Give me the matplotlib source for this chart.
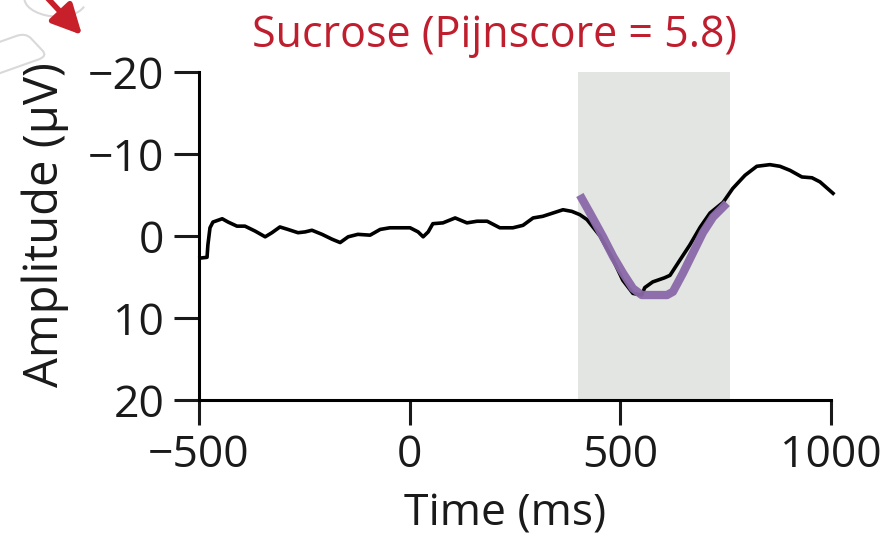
import matplotlib
matplotlib.use("Agg")
import matplotlib.pyplot as plt
from matplotlib.patches import FancyArrowPatch, Arc, FancyBboxPatch
import matplotlib.transforms as mtransforms

plt.rcParams['font.family'] = ['Open Sans', 'DejaVu Sans']

# EEG trace (black)
eeg_time = [-498, -481, -479, -474, -467, -445, -431, -410, -391, -367, -343, -327,
            -308, -289, -265, -248, -232, -208, -184, -165, -146, -123, -94, -70,
            -47, 1, 20, 32, 44, 55, 79, 108, 136, 160, 184, 214, 245, 269, 293,
            316, 340, 364, 385, 404, 421, 452, 483, 506, 530, 551, 558, 577, 605,
            618, 642, 665, 690, 713, 744, 767, 796, 824, 855, 879, 903, 931, 955,
            974, 1005]
eeg_amp = [2.7, 2.6, 1.1, -1.0, -1.7, -2.1, -1.7, -1.2, -1.2, -0.6, 0.1, -0.4,
           -1.1, -0.8, -0.4, -0.5, -0.7, -0.2, 0.4, 0.8, 0.1, -0.2, -0.1, -0.8,
           -1.0, -1.0, -0.5, 0.1, -0.5, -1.5, -1.6, -2.2, -1.6, -1.8, -1.8, -1.0,
           -1.0, -1.3, -2.2, -2.4, -2.8, -3.2, -3.0, -2.6, -2.0, 0.0, 2.9, 5.4,
           7.0, 7.2, 6.3, 5.6, 5.1, 4.8, 2.9, 1.1, -1.1, -2.8, -4.1, -5.8, -7.4,
           -8.5, -8.7, -8.5, -8.0, -7.2, -7.1, -6.6, -5.2]

# Fitted component (purple)
fit_time = [404, 428, 459, 483, 506, 530, 551, 577, 611, 625, 649, 672, 696, 720, 753]
fit_amp = [-5.0, -2.8, 0.1, 2.5, 4.5, 6.4, 7.2, 7.2, 7.2, 6.8, 4.5, 2.1, -0.4, -2.3, -4.0]

window = (400, 760)
x_ticks = [-500, 0, 500, 1000]
y_ticks = [-20, -10, 0, 10, 20]
title = "Sucrose (Pijnscore = 5.8)"

fig = plt.figure(figsize=(8.85, 5.43), dpi=100)
ax = fig.add_axes([0.2249, 0.2634, 0.714, 0.604])

ax.axvspan(window[0], window[1], color='#e2e5e1', zorder=0, lw=0)
ax.plot(eeg_time, eeg_amp, color='black', lw=2.6, zorder=2, clip_on=False,
        solid_joinstyle='round')
ax.plot(fit_time, fit_amp, color='#8a69a8', lw=6, zorder=3,
        solid_capstyle='butt', solid_joinstyle='round', alpha=0.95)

ax.set_xlim(-500, 1000)
ax.set_ylim(20, -20)
ax.set_xticks(x_ticks)
ax.set_yticks(y_ticks)
ax.set_xticklabels([str(v).replace('-', '\u2212') for v in x_ticks])
ax.set_yticklabels([str(v).replace('-', '\u2212') for v in y_ticks])
for s in ['top', 'right']:
    ax.spines[s].set_visible(False)
for s in ['left', 'bottom']:
    ax.spines[s].set_linewidth(2.2)
ax.tick_params(direction='out', length=18, width=2.2, labelsize=32, pad=6,
               colors='#1a1a1a')
ax.tick_params(axis='y', pad=7)

fig.text(0.5706, 0.053, "Time (ms)", fontsize=32, ha='center', va='center',
         color='#1a1a1a')
fig.text(0.051, 0.5856, "Amplitude (\u03bcV)", fontsize=34, ha='center',
         va='center', rotation=90, color='#1a1a1a')
fig.text(0.559, 0.935, title, fontsize=31, ha='center', va='center',
         color='#be1e2d')

# faint remnants in the corner
arc = Arc((0.062, 1.0), 0.07, 0.06, angle=-20, theta1=180, theta2=360,
          transform=fig.transFigure, color='#d9d9d9', lw=1.5)
fig.patches.append(arc)
box = FancyBboxPatch((-0.03, 0.87), 0.075, 0.05, boxstyle='round,pad=0,rounding_size=0.012',
                     transform=mtransforms.Affine2D().rotate_deg_around(0.0, 0.9, 30) + fig.transFigure,
                     fill=False, ec='#d9d9d9', lw=1.5)
fig.patches.append(box)

arrow = FancyArrowPatch((0.050, 1.01), (0.0927, 0.9355), transform=fig.transFigure,
                        arrowstyle='-|>,head_length=18,head_width=9',
                        color='#c8202a', lw=4, mutation_scale=1,
                        shrinkA=0, shrinkB=0)
fig.patches.append(arrow)

fig.savefig("out.png", dpi=100)
